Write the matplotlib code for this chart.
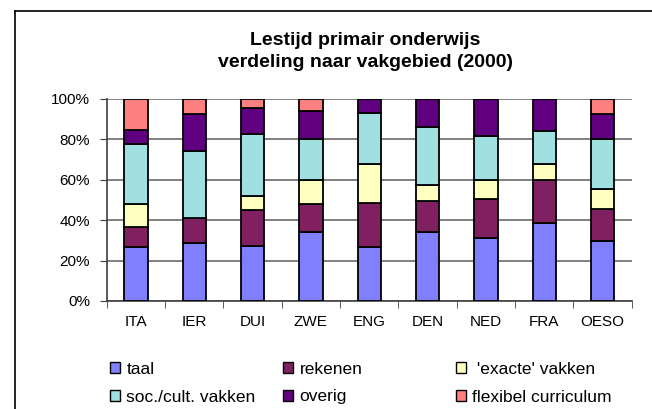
import matplotlib
matplotlib.use("Agg")
import matplotlib.pyplot as plt
from matplotlib.lines import Line2D
from matplotlib.patches import Patch
import numpy as np

plt.rcParams["font.family"] = ["Liberation Sans", "DejaVu Sans"]

landen = ["ITA", "IER", "DUI", "ZWE", "ENG", "DEN", "NED", "FRA", "OESO"]
vakken = ["taal", "rekenen", " 'exacte' vakken", "soc./cult. vakken", "overig", "flexibel curriculum"]
kleuren = ["#8080FF", "#802060", "#FFFFC0", "#A0E0E0", "#600080", "#FF8080"]

# aandeel lestijd per vakgebied (%), per land
taal = [26.6, 28.9, 27.4, 34.2, 26.6, 34.2, 31.2, 38.8, 29.7]
rekenen = [10.0, 12.2, 17.6, 13.8, 22.1, 15.5, 19.3, 20.9, 16.0]
exacte = [11.4, 0.0, 7.0, 11.7, 19.3, 7.6, 9.2, 8.3, 9.9]
soc_cult = [29.7, 33.0, 30.5, 20.5, 25.2, 29.0, 22.0, 16.2, 24.6]
overig = [7.0, 18.5, 13.0, 14.0, 6.8, 13.7, 18.3, 15.8, 12.4]
flexibel = [15.3, 7.4, 4.5, 5.8, 0.0, 0.0, 0.0, 0.0, 7.4]

reeksen = [taal, rekenen, exacte, soc_cult, overig, flexibel]

W, H = 652, 409
fig = plt.figure(figsize=(W / 100, H / 100), dpi=100)
ax = fig.add_axes([106.7 / W, 1 - 301 / H, 525 / W, 202 / H])

x = np.arange(len(landen))
tot = np.sum(np.array(reeksen), axis=0)
bodem = np.zeros(len(landen))
handles = []
for waarden, kleur, naam in zip(reeksen, kleuren, vakken):
    w = np.array(waarden) / tot * 100
    ax.bar(x, w, 0.4, bottom=bodem, color=kleur, edgecolor="black", linewidth=1.3, zorder=3)
    bodem += w
    handles.append(Patch(facecolor=kleur, edgecolor="black", linewidth=1.0, label=naam))

ax.set_xlim(-0.5, len(landen) - 0.5)
ax.set_ylim(0, 100)
ax.set_yticks(np.arange(0, 101, 20))
ax.set_yticklabels([f"{v}%" for v in range(0, 101, 20)], fontsize=11)
ax.set_xticks(x)
ax.set_xticklabels(landen, fontsize=11)
ax.set_xticks(np.arange(-0.5, len(landen)), minor=True)
ax.tick_params(axis="x", which="major", length=0, pad=10)
ax.tick_params(axis="x", which="minor", length=5, direction="out", color="#404040")
ax.tick_params(axis="y", length=5, direction="out", color="#404040", pad=7)
ax.grid(axis="y", color="#808080", linewidth=1.4, zorder=0)
for s in ["top", "right"]:
    ax.spines[s].set_visible(False)
ax.spines["left"].set_color("#404040")
ax.spines["bottom"].set_color("#404040")
ax.spines["left"].set_linewidth(1.2)
ax.spines["bottom"].set_linewidth(1.2)

fig.text(365 / W, 1 - 45 / H, "Lestijd primair onderwijs", ha="center", va="baseline",
         fontsize=14, fontweight="bold")
fig.text(365 / W, 1 - 67 / H, "verdeling naar vakgebied (2000)", ha="center", va="baseline",
         fontsize=14, fontweight="bold")

# kader (alleen boven en links zichtbaar)
fig.add_artist(Line2D([15 / W, 15 / W], [0, 1 - 10.5 / H], transform=fig.transFigure, color="black", linewidth=1.2))
fig.add_artist(Line2D([15 / W, 1], [1 - 10.5 / H, 1 - 10.5 / H], transform=fig.transFigure, color="black", linewidth=1.2))

# legenda: 2 rijen x 3 kolommen
kol_x = [110, 283, 456]
rij_y = [369, 397]
for i, h in enumerate(handles):
    kx = kol_x[i % 3]
    ry = rij_y[i // 3]
    fig.legend(handles=[h], loc="center left", bbox_to_anchor=(kx / W, 1 - ry / H),
               frameon=False, fontsize=12.5, handlelength=0.55, handleheight=0.55,
               handletextpad=0.4, borderaxespad=0, borderpad=0)

fig.savefig("out.png", dpi=100)
